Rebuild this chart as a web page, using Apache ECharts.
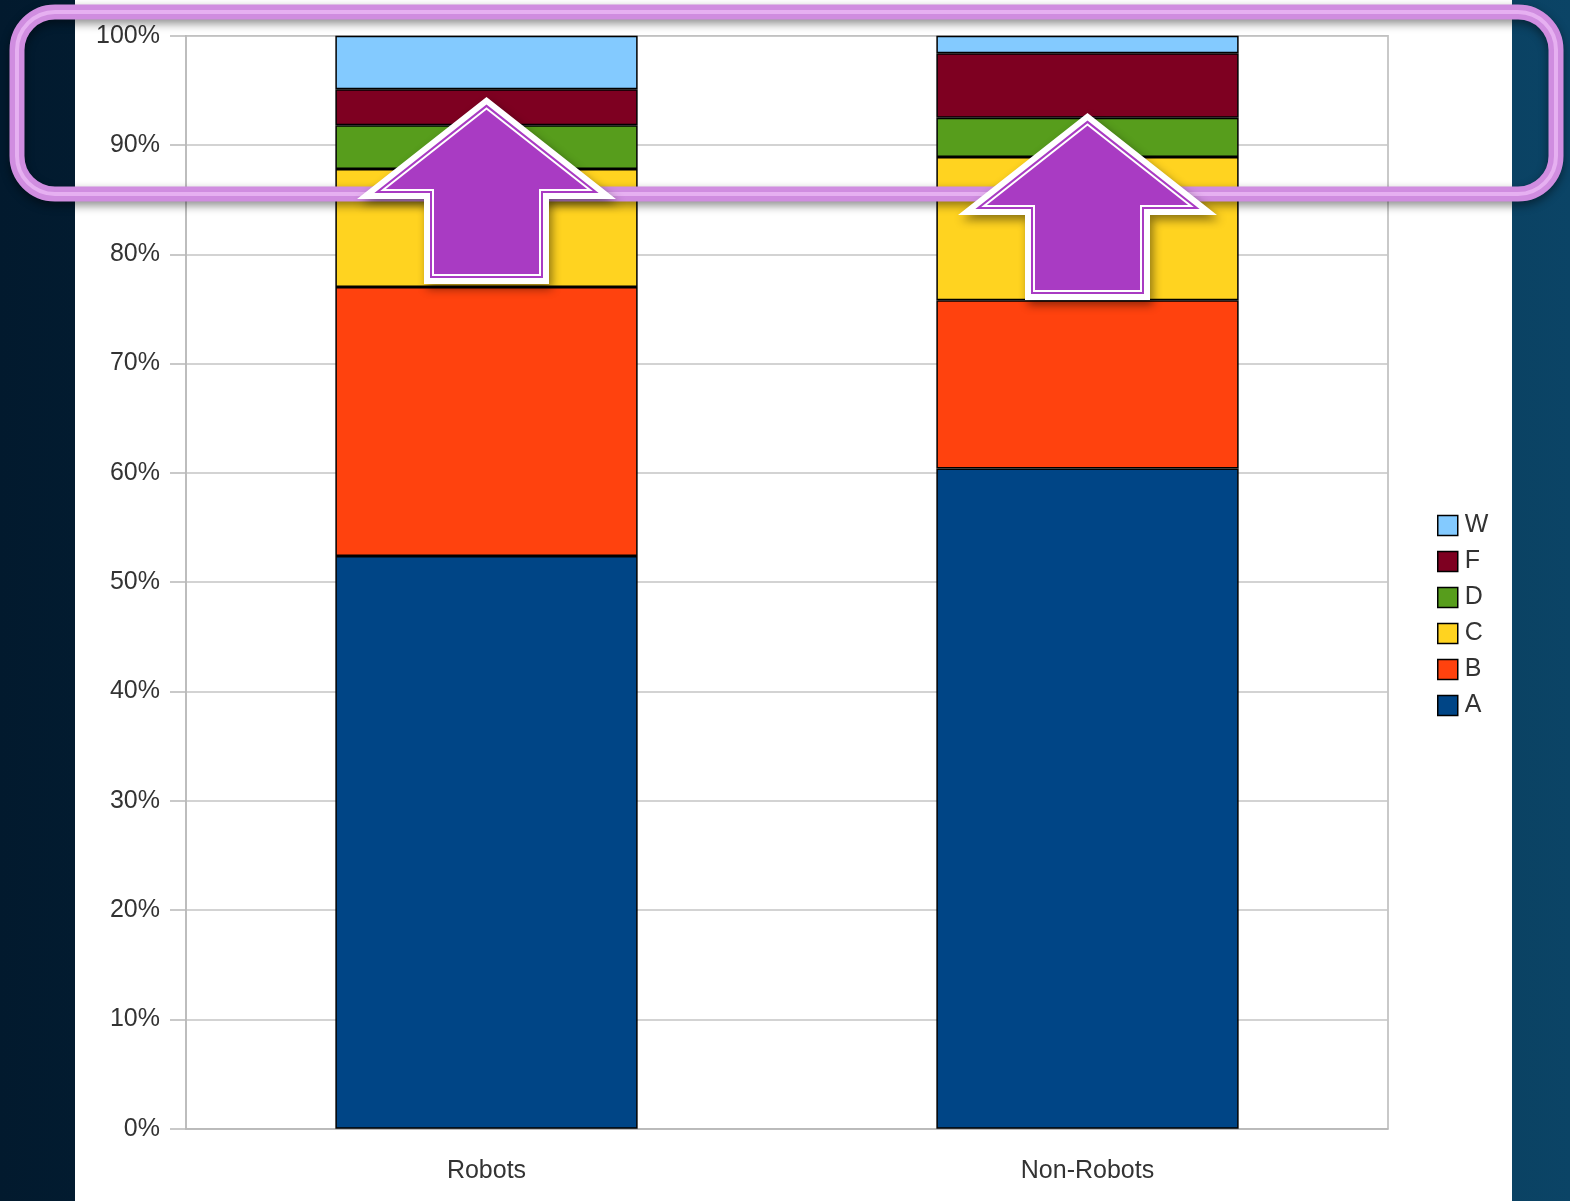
<!DOCTYPE html>
<html>
<head>
<meta charset="utf-8">
<script src="https://cdn.jsdelivr.net/npm/echarts@6/dist/echarts.min.js"></script>
<style>
html,body{margin:0;padding:0;width:1570px;height:1201px;overflow:hidden;
background:linear-gradient(90deg,#021a2e 0%,#03253f 40%,#073856 75%,#0b4466 100%);}
#panel{position:absolute;left:75px;top:0;width:1437px;height:1201px;background:#fff;}
#chart{position:absolute;left:0;top:0;width:1570px;height:1201px;}
</style>
</head>
<body>
<div id="panel"></div>
<div id="chart"></div>
<script>
// Data (percent of each group)
var categories = ['Robots', 'Non-Robots'];
var seriesNames = ['A', 'B', 'C', 'D', 'F', 'W'];
var valuesA = [52.4, 60.4];
var valuesB = [24.6, 15.4];
var valuesC = [10.8, 13.1];
var valuesD = [4.0, 3.6];
var valuesF = [3.3, 5.9];
var valuesW = [4.9, 1.6];
var yTicks = [0, 10, 20, 30, 40, 50, 60, 70, 80, 90, 100];

var colors = {A:'#004586', B:'#ff420e', C:'#ffd320', D:'#579d1c', F:'#7e0021', W:'#83caff'};
var dataMap = {A:valuesA, B:valuesB, C:valuesC, D:valuesD, F:valuesF, W:valuesW};
var font = '"Liberation Sans", Arial, sans-serif';

var chart = echarts.init(document.getElementById('chart'), null, {renderer:'canvas'});

var series = seriesNames.map(function(n){
  return {
    name:n, type:'bar', stack:'total', barWidth:'50.3%',
    data:dataMap[n],
    itemStyle:{color:colors[n], borderColor:'#000', borderWidth:1.5},
    emphasis:{disabled:true}
  };
});

chart.setOption({
  animation:false,
  backgroundColor:'transparent',
  grid:{left:186, right:182, top:35.7, bottom:72.3, show:true, borderColor:'#b8b8b8', borderWidth:1.5, backgroundColor:'transparent'},
  legend:{
    orient:'vertical', left:1432, top:508,
    data:['W','F','D','C','B','A'],
    itemWidth:20, itemHeight:20, itemGap:11,
    icon:'rect',
    itemStyle:{borderColor:'#000', borderWidth:1.5},
    textStyle:{fontFamily:font, fontSize:25, color:'#333', padding:[0,0,0,2]}
  },
  xAxis:{
    type:'category', data:categories,
    axisLine:{lineStyle:{color:'#b8b8b8', width:1.5}},
    axisTick:{alignWithLabel:true, length:16, lineStyle:{color:'#999', width:1.5}},
    axisLabel:{fontFamily:font, fontSize:25, color:'#333', margin:30}
  },
  yAxis:{
    type:'value', min:yTicks[0], max:yTicks[yTicks.length-1], interval:10,
    axisLine:{show:true, lineStyle:{color:'#b8b8b8', width:1.5}},
    axisTick:{show:true, length:16, lineStyle:{color:'#b8b8b8', width:1.5}},
    splitLine:{lineStyle:{color:'#c4c4c4', width:1.5}},
    axisLabel:{fontFamily:font, fontSize:25, color:'#333', margin:26, formatter:'{value}%'}
  },
  series:series
});

function arrowPts(cx, ty, d){
  var tip = ty + d*1.27;
  var baseY = ty + 102 - d;
  var headHalf = 129.5 - d*2.89;
  var shaftHalf = 62.5 - d;
  var bottom = ty + 187 - d;
  return [[cx, tip],[cx+headHalf, baseY],[cx+shaftHalf, baseY],[cx+shaftHalf, bottom],
          [cx-shaftHalf, bottom],[cx-shaftHalf, baseY],[cx-headHalf, baseY]];
}
function arrow(cx, ty){
  return [
    {type:'polygon', z:100, shape:{points:arrowPts(cx,ty,0)},
     style:{fill:'#ffffff', shadowBlur:10, shadowColor:'rgba(0,0,0,0.45)', shadowOffsetX:3, shadowOffsetY:5}},
    {type:'polygon', z:101, shape:{points:arrowPts(cx,ty,6)}, style:{fill:'#a93bc3'}},
    {type:'polygon', z:102, shape:{points:arrowPts(cx,ty,9)}, style:{fill:null, stroke:'#ffffff', lineWidth:2}}
  ];
}
var c1 = chart.convertToPixel({xAxisIndex:0}, categories[0]);
var c2 = chart.convertToPixel({xAxisIndex:0}, categories[1]);
var graphics = [
  {type:'rect', z:90, shape:{x:17, y:12, width:1539, height:182, r:38},
   style:{fill:null, stroke:'#d08de0', lineWidth:15, shadowBlur:10, shadowColor:'rgba(0,0,0,0.45)', shadowOffsetY:4}},
  {type:'rect', z:91, shape:{x:17, y:12, width:1539, height:182, r:38},
   style:{fill:null, stroke:'rgba(235,185,245,0.8)', lineWidth:4}}
].concat(arrow(c1, 97)).concat(arrow(c2, 113));
chart.setOption({graphic:graphics});
</script>
</body>
</html>
